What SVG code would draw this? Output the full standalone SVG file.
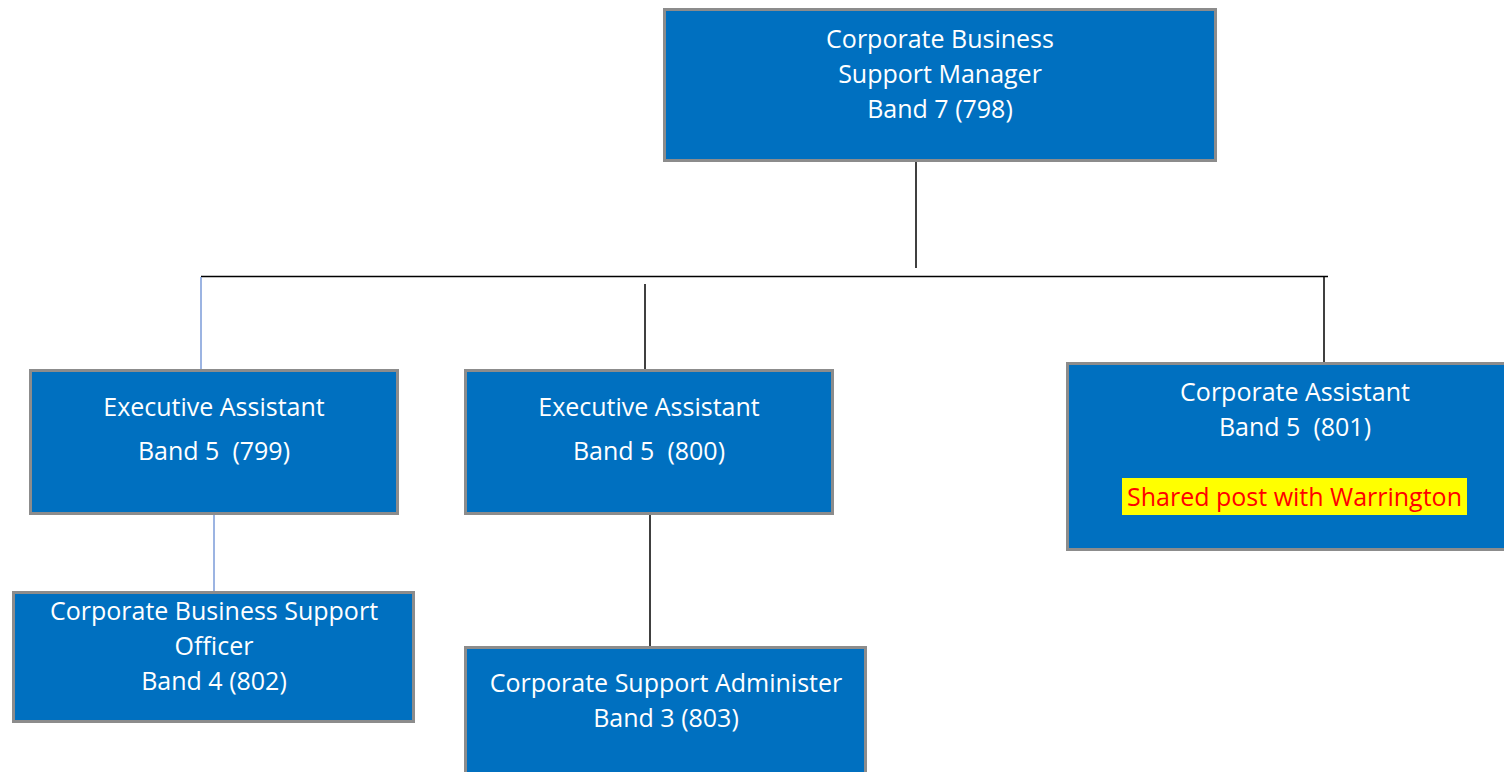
<svg xmlns="http://www.w3.org/2000/svg" width="1504" height="772" viewBox="0 0 1504 772">
<style>
.box{fill:#0070C0;stroke:#8C8C8C;stroke-width:3}
.t{font-family:"Open Sans","Noto Sans","Liberation Sans",sans-serif;font-size:25px;fill:#FFFFFF;text-anchor:middle;white-space:pre}
.red{fill:#FF0000}
.blk{stroke:#000000;stroke-width:1.5;fill:none}
.blu{stroke:#7B9BD8;stroke-width:1.5;fill:none}
</style>
<rect width="1504" height="772" fill="#FFFFFF"/>
<g id="connectors">
<line class="blk" x1="916" y1="161" x2="916" y2="268"/>
<line class="blk" x1="201" y1="276.5" x2="1328" y2="276.5"/>
<line class="blu" x1="201" y1="277" x2="201" y2="370"/>
<line class="blk" x1="645" y1="284" x2="645" y2="370"/>
<line class="blk" x1="1324" y1="276" x2="1324" y2="362"/>
<line class="blu" x1="214" y1="514" x2="214" y2="592"/>
<line class="blk" x1="650" y1="514" x2="650" y2="657"/>
</g>
<g id="n798">
<rect class="box" x="664.5" y="9.5" width="551" height="151"/>
<text class="t" x="940" y="48">Corporate Business</text>
<text class="t" x="940" y="83">Support Manager</text>
<text class="t" x="940" y="118">Band 7 (798)</text>
</g>
<g id="n799">
<rect class="box" x="30.5" y="370.5" width="367" height="143"/>
<text class="t" x="214" y="416">Executive Assistant</text>
<text class="t" x="214" y="460" xml:space="preserve">Band 5  (799)</text>
</g>
<g id="n800">
<rect class="box" x="465.5" y="370.5" width="367" height="143"/>
<text class="t" x="649" y="416">Executive Assistant</text>
<text class="t" x="649" y="460" xml:space="preserve">Band 5  (800)</text>
</g>
<g id="n801">
<rect class="box" x="1067.5" y="363.5" width="440" height="186"/>
<text class="t" x="1295" y="401">Corporate Assistant</text>
<text class="t" x="1295" y="436" xml:space="preserve">Band 5  (801)</text>
<rect x="1122" y="478" width="345" height="37" fill="#FFFF00"/>
<text class="t red" x="1294.5" y="506">Shared post with Warrington</text>
</g>
<g id="n802">
<rect class="box" x="13.5" y="592.5" width="400" height="129"/>
<text class="t" x="214" y="620">Corporate Business Support</text>
<text class="t" x="214" y="655">Officer</text>
<text class="t" x="214" y="690">Band 4 (802)</text>
</g>
<g id="n803">
<rect class="box" x="465.5" y="647.5" width="400" height="130"/>
<text class="t" x="666" y="692">Corporate Support Administer</text>
<text class="t" x="666" y="727">Band 3 (803)</text>
</g>
</svg>
